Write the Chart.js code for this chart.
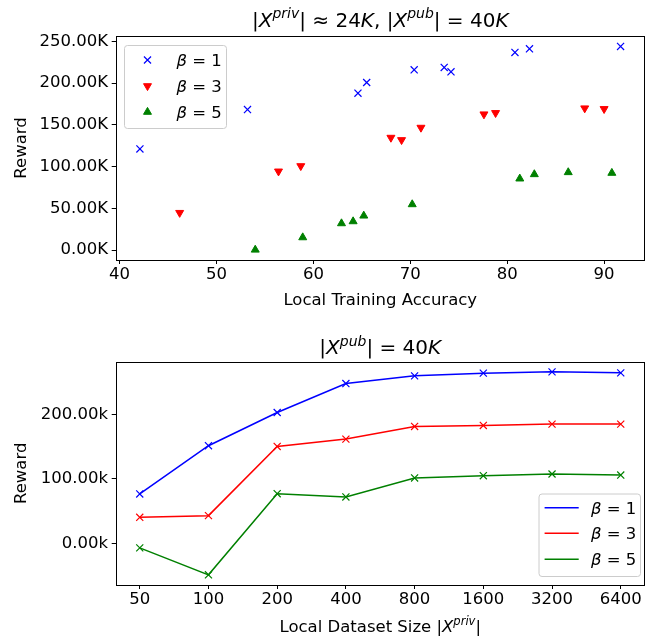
<!DOCTYPE html>
<html><head><meta charset="utf-8">
<script src="https://cdn.jsdelivr.net/npm/chart.js@4"></script>
<style>
body{margin:0;background:#fff;width:651px;height:639px;overflow:hidden;position:relative}
#c1{position:absolute;left:0;top:0}
#c2{position:absolute;left:0;top:320px}
</style>
</head><body>
<canvas id="c1" width="651" height="320"></canvas>
<canvas id="c2" width="651" height="319"></canvas>
<script>
// ---------- Top chart data (scatter) ----------
const accB1 = [42.1, 53.2, 64.6, 65.5, 70.4, 73.5, 74.2, 80.8, 82.3, 91.7];
const rewB1 = [121200, 168400, 188000, 200800, 216000, 218800, 213600, 236800, 241200, 244000];
const accB3 = [46.2, 56.4, 58.7, 68.0, 69.1, 71.1, 77.6, 78.8, 88.0, 90.0];
const rewB3 = [44800, 94400, 100800, 134800, 132000, 146800, 162800, 164400, 170000, 169200];
const accB5 = [54.0, 58.9, 62.9, 64.1, 65.2, 70.2, 81.3, 82.8, 86.3, 90.8];
const rewB5 = [400, 15200, 32000, 34400, 41200, 54800, 85600, 90800, 93200, 92400];
const topXTicks = [40, 50, 60, 70, 80, 90];
const topYTicks = [0, 50000, 100000, 150000, 200000, 250000];

// ---------- Bottom chart data (lines) ----------
const sizeLabels = ['50', '100', '200', '400', '800', '1600', '3200', '6400'];
const lineB1 = [76600, 151500, 203100, 248100, 260000, 264200, 266200, 264700];
const lineB3 = [40300, 42900, 150400, 161800, 181400, 183000, 185100, 185100];
const lineB5 = [-7200, -49000, 77000, 71900, 101400, 105000, 107600, 106000];
const botYTicks = [0, 100000, 200000];
const betaLabels = ['1', '3', '5'];
const colors = ['#0000ff', '#ff0000', '#008000'];

const FAM = "'DejaVu Sans'";
const FS = 16.5;
const TFS = 20;
Chart.defaults.font.family = FAM;
Chart.defaults.font.size = FS;
Chart.defaults.color = '#000';
Chart.defaults.animation = false;

function drawMath(ctx, parts, x, y, size, align) {
  const fonts = {
    n: `${size}px ${FAM}`,
    i: `italic ${size}px ${FAM}`,
    si: `italic ${size * 0.7}px ${FAM}`
  };
  let w = 0;
  for (const [t, s] of parts) { ctx.font = fonts[s]; w += ctx.measureText(t).width; }
  let cx = align === 'center' ? x - w / 2 : (align === 'right' ? x - w : x);
  ctx.save();
  ctx.textBaseline = 'alphabetic';
  ctx.textAlign = 'left';
  ctx.fillStyle = '#000';
  for (const [t, s] of parts) {
    ctx.font = fonts[s];
    ctx.fillText(t, cx, s === 'si' ? y - size * 0.42 : y);
    cx += ctx.measureText(t).width;
  }
  ctx.restore();
}

function boxPlugin() {
  return {
    id: 'box',
    afterDraw(chart) {
      const a = chart.chartArea, ctx = chart.ctx;
      ctx.save();
      ctx.strokeStyle = '#000';
      ctx.lineWidth = 1;
      ctx.strokeRect(Math.round(a.left) + 0.5, Math.round(a.top) + 0.5,
        Math.round(a.right - a.left) - 1, Math.round(a.bottom - a.top));
      ctx.restore();
    }
  };
}

function rewardLabel(ctx, a) {
  ctx.save();
  ctx.translate(22, (a.top + a.bottom) / 2);
  ctx.rotate(-Math.PI / 2);
  ctx.font = `${FS}px ${FAM}`;
  ctx.textAlign = 'center';
  ctx.textBaseline = 'middle';
  ctx.fillStyle = '#000';
  ctx.fillText('Reward', 0, 0);
  ctx.restore();
}

function legendFrame(ctx, x, y, w, h) {
  ctx.save();
  ctx.beginPath();
  ctx.roundRect(x + 0.5, y + 0.5, w, h, 3);
  ctx.fillStyle = 'rgba(255,255,255,0.8)';
  ctx.fill();
  ctx.strokeStyle = '#cccccc';
  ctx.lineWidth = 1;
  ctx.stroke();
  ctx.restore();
}

function betaText(ctx, lab, x, y) {
  drawMath(ctx, [['β', 'i'], [' = ' + lab, 'n']], x, y, FS, 'left');
}

function whiteBg(chart) {
  const ctx = chart.ctx;
  ctx.save(); ctx.fillStyle = '#fff'; ctx.fillRect(0, 0, chart.width, chart.height); ctx.restore();
}

const topDecor = {
  id: 'topDecor',
  beforeDraw: whiteBg,
  afterDraw(chart) {
    const ctx = chart.ctx, a = chart.chartArea;
    const cx = (a.left + a.right) / 2;
    drawMath(ctx, [['|', 'n'], ['X', 'i'], ['priv', 'si'], ['| ≈ 24', 'n'], ['K', 'i'], [', |', 'n'],
      ['X', 'i'], ['pub', 'si'], ['| = 40', 'n'], ['K', 'i']], cx, 26.5, TFS, 'center');
    rewardLabel(ctx, a);
    ctx.save();
    ctx.font = `${FS}px ${FAM}`;
    ctx.textAlign = 'center';
    ctx.textBaseline = 'alphabetic';
    ctx.fillStyle = '#000';
    ctx.fillText('Local Training Accuracy', cx, 305);
    ctx.restore();
    // legend
    legendFrame(ctx, 124, 45, 102, 83);
    const rows = [60, 86, 112];
    chart.data.datasets.forEach((ds, i) => {
      const y = rows[i];
      ctx.save();
      ctx.fillStyle = ds.backgroundColor;
      ctx.strokeStyle = ds.borderColor;
      ctx.lineWidth = ds.borderWidth;
      Chart.helpers.drawPoint(ctx, {
        pointStyle: ds.pointStyle, rotation: ds.rotation || 0, radius: ds.pointRadius,
        borderWidth: ds.borderWidth
      }, 147.5, y);
      ctx.restore();
      betaText(ctx, betaLabels[i], 176.5, y + 6);
    });
  }
};

const botDecor = {
  id: 'botDecor',
  beforeDraw: whiteBg,
  afterDraw(chart) {
    const ctx = chart.ctx, a = chart.chartArea;
    const cx = (a.left + a.right) / 2;
    drawMath(ctx, [['|', 'n'], ['X', 'i'], ['pub', 'si'], ['| = 40', 'n'], ['K', 'i']], cx, 34.3, TFS, 'center');
    rewardLabel(ctx, a);
    drawMath(ctx, [['Local Dataset Size |', 'n'], ['X', 'i'], ['priv', 'si'], ['|', 'n']], cx, 312, FS, 'center');
    legendFrame(ctx, 538.5, 173.5, 101.5, 82.5);
    const rows = [187.7, 213.3, 239.3];
    chart.data.datasets.forEach((ds, i) => {
      const y = rows[i];
      ctx.save();
      ctx.strokeStyle = ds.borderColor;
      ctx.lineWidth = 1.5;
      ctx.beginPath();
      ctx.moveTo(544.6, y);
      ctx.lineTo(578.7, y);
      ctx.stroke();
      ctx.restore();
      betaText(ctx, betaLabels[i], 591, y + 6);
    });
  }
};

function axisCommon(extra) {
  return Object.assign({
    grid: { drawOnChartArea: false, drawTicks: true, tickLength: 4, color: '#000', lineWidth: 1 },
    border: { display: false },
  }, extra);
}

// ---------- Top chart ----------
const toPts = (xs, ys) => xs.map((x, i) => ({ x: x, y: ys[i] }));
new Chart(document.getElementById('c1'), {
  type: 'scatter',
  data: {
    datasets: [
      { label: 'β = 1', data: toPts(accB1, rewB1), pointStyle: 'crossRot', pointRadius: 5,
        borderColor: colors[0], backgroundColor: colors[0], borderWidth: 1.2, clip: false },
      { label: 'β = 3', data: toPts(accB3, rewB3), pointStyle: 'triangle', rotation: 180, pointRadius: 4.6,
        borderColor: colors[1], backgroundColor: colors[1], borderWidth: 1, clip: false },
      { label: 'β = 5', data: toPts(accB5, rewB5), pointStyle: 'triangle', rotation: 0, pointRadius: 4.6,
        borderColor: colors[2], backgroundColor: colors[2], borderWidth: 1, clip: false }
    ]
  },
  options: {
    responsive: false,
    layout: { padding: { top: 36, right: 4, left: 0, bottom: 0 } },
    plugins: { legend: { display: false }, tooltip: { enabled: false } },
    scales: {
      x: axisCommon({
        type: 'linear', min: 39.6, max: 94.2,
        afterBuildTicks: s => { s.ticks = topXTicks.map(v => ({ value: v })); },
        afterFit: s => { s.height = 60; },
        ticks: { padding: 1, maxRotation: 0, autoSkip: false, color: '#000', callback: v => String(v) }
      }),
      y: axisCommon({
        type: 'linear', min: -11800, max: 256500,
        afterBuildTicks: s => { s.ticks = topYTicks.map(v => ({ value: v })); },
        afterFit: s => { s.width = 115.7; },
        ticks: { padding: 3.7, color: '#000', callback: v => (v / 1000).toFixed(2) + 'K' }
      })
    }
  },
  plugins: [boxPlugin(), topDecor]
});

// ---------- Bottom chart ----------
const idx = sizeLabels.map((_, i) => i);
new Chart(document.getElementById('c2'), {
  type: 'line',
  data: {
    datasets: [lineB1, lineB3, lineB5].map((arr, k) => ({
      label: 'β = ' + betaLabels[k],
      data: arr.map((v, i) => ({ x: idx[i], y: v })),
      borderColor: colors[k], backgroundColor: colors[k], borderWidth: 1.5,
      pointStyle: 'crossRot', pointRadius: 5, pointBorderWidth: 1.2, tension: 0, fill: false, clip: false
    }))
  },
  options: {
    responsive: false,
    layout: { padding: { top: 41.7, right: 4, left: 0, bottom: 0 } },
    plugins: { legend: { display: false }, tooltip: { enabled: false } },
    scales: {
      x: axisCommon({
        type: 'linear', min: -0.35, max: 7.35,
        afterBuildTicks: s => { s.ticks = idx.map(v => ({ value: v })); },
        afterFit: s => { s.height = 54; },
        ticks: { padding: 1, maxRotation: 0, autoSkip: false, color: '#000', callback: v => sizeLabels[v] }
      }),
      y: axisCommon({
        type: 'linear', min: -64800, max: 282000,
        afterBuildTicks: s => { s.ticks = botYTicks.map(v => ({ value: v })); },
        afterFit: s => { s.width = 115.7; },
        ticks: { padding: 3.7, color: '#000', callback: v => (v / 1000).toFixed(2) + 'k' }
      })
    }
  },
  plugins: [boxPlugin(), botDecor]
});
</script>
</body></html>
